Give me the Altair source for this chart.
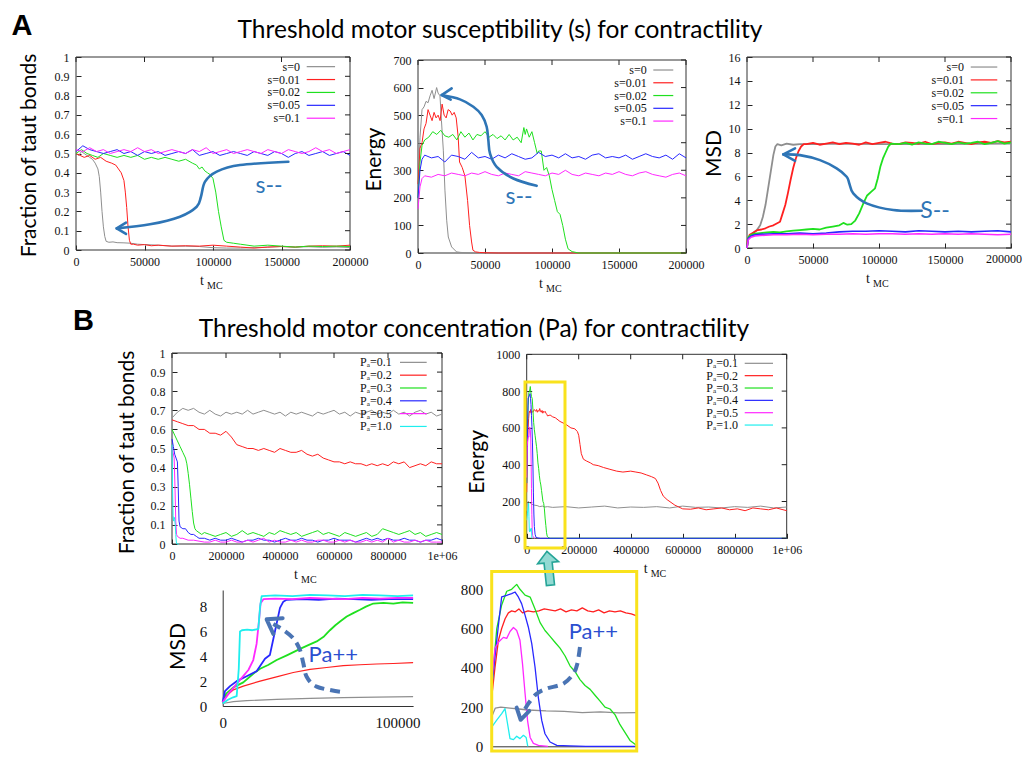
import altair as alt
import pandas as pd

SERIF = "Liberation Serif"
SANS = "Lato"
LETTER_FONT = "Liberation Sans"

# ============================ DATA ============================
# ---------- Panel A: threshold motor susceptibility (s) ----------
A_NAMES = ["s=0", "s=0.01", "s=0.02", "s=0.05", "s=0.1"]
A_COLORS = ["#8f8f8f", "#ff2020", "#1fe01f", "#2828ff", "#ff28ff"]
A_XTICKS = [0, 50000, 100000, 150000, 200000]
A_X_5K = list(range(0, 200001, 5000))

# A1: fraction of taut bonds
A1_YTICKS = [0, 0.1, 0.2, 0.3, 0.4, 0.5, 0.6, 0.7, 0.8, 0.9, 1]
a1_s0_x = [0, 2000, 4000, 6000, 8000, 10000, 12000, 14000, 16000, 17000, 18000, 19000, 20000, 21000, 22000, 24000, 27000, 30000, 35000, 40000, 45000, 50000, 60000, 70000, 80000, 90000, 100000, 110000, 120000, 130000, 140000, 150000, 160000, 170000, 180000, 190000, 200000]
a1_s0_y = [0.50, 0.49, 0.51, 0.50, 0.49, 0.48, 0.47, 0.45, 0.42, 0.38, 0.30, 0.20, 0.12, 0.07, 0.045, 0.04, 0.042, 0.038, 0.037, 0.035, 0.03, 0.028, 0.025, 0.02, 0.02, 0.018, 0.012, 0.01, 0.01, 0.012, 0.015, 0.018, 0.015, 0.017, 0.014, 0.016, 0.013]
a1_s1_x = [0, 3000, 6000, 10000, 14000, 18000, 22000, 26000, 29000, 31000, 33000, 35000, 36000, 37000, 38000, 39000, 40000, 42000, 45000, 50000, 55000, 60000, 70000, 80000, 90000, 100000, 110000, 120000, 130000, 140000, 150000, 160000, 170000, 180000, 190000, 200000]
a1_s1_y = [0.50, 0.49, 0.48, 0.49, 0.47, 0.48, 0.46, 0.45, 0.44, 0.42, 0.40, 0.36, 0.30, 0.22, 0.12, 0.05, 0.03, 0.03, 0.025, 0.028, 0.022, 0.025, 0.02, 0.022, 0.02, 0.025, 0.02, 0.015, 0.01, 0.015, 0.018, 0.015, 0.02, 0.022, 0.02, 0.025]
a1_s2_x = [0, 4000, 8000, 12000, 16000, 20000, 25000, 30000, 35000, 40000, 45000, 50000, 55000, 60000, 65000, 70000, 75000, 80000, 85000, 88000, 90000, 92000, 94000, 96000, 98000, 100000, 102000, 104000, 106000, 108000, 110000, 115000, 120000, 130000, 140000, 150000, 160000, 170000, 180000, 190000, 200000]
a1_s2_y = [0.50, 0.52, 0.50, 0.49, 0.48, 0.50, 0.49, 0.48, 0.49, 0.48, 0.49, 0.47, 0.48, 0.47, 0.48, 0.47, 0.46, 0.47, 0.45, 0.44, 0.42, 0.43, 0.41, 0.40, 0.39, 0.37, 0.30, 0.20, 0.12, 0.05, 0.04, 0.035, 0.03, 0.02, 0.025, 0.02, 0.015, 0.02, 0.018, 0.02, 0.018]
a1_s3_y = [0.51, 0.54, 0.52, 0.51, 0.50, 0.51, 0.52, 0.50, 0.51, 0.49, 0.51, 0.50, 0.51, 0.49, 0.50, 0.51, 0.50, 0.52, 0.49, 0.50, 0.51, 0.49, 0.50, 0.51, 0.50, 0.49, 0.51, 0.50, 0.49, 0.51, 0.50, 0.48, 0.50, 0.51, 0.49, 0.50, 0.51, 0.49, 0.50, 0.51, 0.49]
a1_s4_y = [0.52, 0.51, 0.53, 0.51, 0.52, 0.50, 0.51, 0.52, 0.51, 0.53, 0.51, 0.52, 0.50, 0.51, 0.52, 0.51, 0.50, 0.52, 0.51, 0.53, 0.50, 0.51, 0.52, 0.50, 0.51, 0.52, 0.51, 0.50, 0.52, 0.51, 0.50, 0.52, 0.51, 0.50, 0.51, 0.53, 0.51, 0.52, 0.50, 0.51, 0.52]

# A2: energy
A2_YTICKS = [0, 100, 200, 300, 400, 500, 600, 700]
a2_s0_x = [0, 1500, 3000, 4500, 6000, 7500, 9000, 10500, 12000, 13900, 15000, 16400, 17500, 18900, 20100, 21400, 22600, 25100, 28800, 32000, 40000, 60000, 100000, 200000]
a2_s0_y = [220, 420, 520, 530, 550, 545, 570, 590, 560, 600, 580, 570, 480, 373, 228, 119, 58, 22, 4, 2, 0, 0, 0, 0]
a2_s1_x = [0, 1500, 3000, 4500, 6000, 7500, 9000, 10500, 12000, 13500, 15000, 16500, 18000, 19500, 21000, 22500, 24000, 25500, 27000, 28500, 30000, 31000, 33000, 35000, 37000, 38500, 40000, 41000, 43000, 46000, 50000, 60000, 100000, 200000]
a2_s1_y = [250, 380, 400, 450, 470, 520, 500, 480, 510, 490, 500, 480, 540, 500, 490, 520, 515, 500, 510, 490, 420, 330, 310, 280, 190, 100, 40, 10, 4, 2, 1, 0, 0, 0]
a2_s2_x = [0, 1500, 3000, 5000, 8000, 11000, 14000, 17000, 20000, 23000, 26000, 29000, 32000, 35000, 38000, 41000, 44000, 47000, 50000, 53000, 56000, 59000, 62000, 65000, 68000, 71000, 74000, 77000, 79000, 80000, 81000, 83000, 85000, 87000, 89000, 90000, 92000, 94000, 96000, 98000, 100000, 102000, 104000, 106000, 108000, 110000, 112000, 115000, 120000, 200000]
a2_s2_y = [200, 330, 390, 410, 420, 440, 430, 445, 425, 420, 430, 410, 440, 420, 435, 410, 430, 425, 440, 420, 430, 415, 425, 410, 430, 410, 420, 400, 455, 430, 450, 420, 440, 400, 360, 370, 370, 300, 310, 280, 230, 190, 150, 140, 100, 50, 15, 5, 0, 0]
a2_s34_x = [0, 1500, 3000] + list(range(5000, 200001, 5000))
a2_s3_y = [200, 300, 340, 355, 345, 350, 330, 355, 350, 340, 365, 345, 350, 340, 355, 345, 360, 350, 340, 345, 365, 350, 355, 345, 360, 345, 350, 340, 355, 360, 345, 350, 345, 355, 340, 350, 360, 350, 345, 355, 340, 360, 345]
a2_s4_y = [160, 240, 270, 280, 275, 285, 280, 290, 285, 280, 290, 285, 295, 285, 280, 290, 285, 280, 295, 290, 285, 280, 290, 285, 300, 285, 280, 290, 285, 280, 290, 285, 295, 285, 280, 290, 295, 285, 280, 275, 285, 290, 280]

# A3: MSD
A3_YTICKS = [0, 2, 4, 6, 8, 10, 12, 14, 16]
a3_s0_x = [0, 500, 1500, 3000, 5000, 7500, 10000, 12000, 14000, 16000, 18000, 20000, 21500, 23000, 26000, 30000, 35000, 40000, 50000, 70000, 100000, 150000, 200000]
a3_s0_y = [0, 0.6, 0.9, 1.1, 1.3, 1.5, 1.9, 2.6, 3.6, 5.0, 6.4, 7.8, 8.5, 8.7, 8.6, 8.75, 8.65, 8.7, 8.7, 8.75, 8.7, 8.7, 8.75]
a3_s1_x = [0, 500, 2000, 5000, 8000, 11000, 14000, 17000, 20000, 22500, 25000, 27000, 29000, 31000, 33000, 35000, 37000, 39000, 41000, 43000] + list(range(45000, 200001, 5000))
a3_s1_y = [0, 0.7, 1.1, 1.3, 1.5, 1.55, 1.65, 1.8, 1.9, 2.05, 2.2, 2.9, 3.6, 4.6, 5.7, 6.7, 7.5, 8.1, 8.5, 8.7,
           8.7, 8.8, 8.65, 8.75, 8.85, 8.7, 8.8, 8.75, 8.65, 8.85, 8.7, 8.8, 8.9, 8.75, 8.7, 8.85, 8.8, 8.75, 8.9, 8.7, 8.8, 8.85, 8.75, 8.9, 8.8, 8.7, 8.85, 8.9, 8.8, 8.95, 8.85, 8.9]
a3_s2_x = [0, 1000, 3000, 6000, 10000, 15000, 20000, 25000, 30000, 35000, 40000, 45000, 50000, 55000, 60000, 65000, 70000, 73000, 76000, 79000, 82000, 85000, 88000, 91000, 94000, 97000, 99000, 101000, 103000, 105000, 107000, 109000] + list(range(115000, 200001, 5000))
a3_s2_y = [0, 0.9, 1.1, 1.2, 1.25, 1.3, 1.35, 1.3, 1.4, 1.45, 1.5, 1.55, 1.6, 1.55, 1.7, 1.8, 1.9, 2.1, 1.95, 2.0, 2.3, 2.9, 3.7, 4.4, 4.7, 5.0, 5.8, 6.8, 7.5, 8.0, 8.5, 8.75,
           8.7, 8.8, 8.65, 8.85, 8.75, 8.7, 8.9, 8.8, 8.7, 8.85, 8.75, 8.8, 8.9, 8.7, 8.8, 8.95, 8.75, 8.85]
a3_s34_x = [0, 1000, 3000, 6000, 10000, 20000, 30000, 40000, 50000, 60000, 70000, 80000, 90000, 100000, 110000, 120000, 130000, 140000, 150000, 160000, 170000, 180000, 190000, 200000]
a3_s3_y = [0, 0.8, 1.0, 1.1, 1.15, 1.2, 1.2, 1.25, 1.2, 1.25, 1.35, 1.4, 1.4, 1.45, 1.4, 1.35, 1.45, 1.4, 1.35, 1.4, 1.35, 1.4, 1.45, 1.35]
a3_s4_y = [0, 0.7, 0.9, 1.0, 1.05, 1.1, 1.1, 1.15, 1.1, 1.15, 1.15, 1.2, 1.15, 1.2, 1.2, 1.15, 1.2, 1.15, 1.2, 1.15, 1.2, 1.15, 1.1, 1.15]

# ---------- Panel B: threshold motor concentration (Pa) ----------
B_NAMES = ["P\u2090=0.1", "P\u2090=0.2", "P\u2090=0.3", "P\u2090=0.4", "P\u2090=0.5", "P\u2090=1.0"]
B_COLORS = ["#8f8f8f", "#ff2020", "#1fe01f", "#2828ff", "#ff28ff", "#1feeee"]
B_XTICKS = [0, 200000, 400000, 600000, 800000, 1000000]
B_X_20K = list(range(0, 1000001, 20000))
B_TAIL_X = list(range(140000, 1000001, 20000))

# B1: fraction of taut bonds
b1_p1_y = [0.66, 0.69, 0.71, 0.70, 0.71, 0.69, 0.68, 0.70, 0.68, 0.67, 0.69, 0.68, 0.69, 0.68, 0.70, 0.68, 0.69, 0.70, 0.69, 0.68, 0.69, 0.67, 0.69, 0.68, 0.69, 0.68, 0.67, 0.69, 0.68, 0.69, 0.70, 0.68, 0.69, 0.67, 0.69, 0.68, 0.69, 0.70, 0.68, 0.69, 0.68, 0.70, 0.68, 0.69, 0.67, 0.69, 0.70, 0.68, 0.69, 0.67, 0.68]
b1_p2_y = [0.65, 0.64, 0.63, 0.62, 0.62, 0.60, 0.60, 0.58, 0.58, 0.57, 0.59, 0.56, 0.52, 0.51, 0.50, 0.50, 0.49, 0.50, 0.49, 0.48, 0.50, 0.49, 0.48, 0.48, 0.49, 0.47, 0.46, 0.47, 0.45, 0.44, 0.43, 0.43, 0.42, 0.43, 0.42, 0.42, 0.41, 0.42, 0.41, 0.42, 0.41, 0.43, 0.42, 0.43, 0.40, 0.41, 0.42, 0.41, 0.43, 0.42, 0.42]
b1_p3_x = [0, 10000, 20000, 30000, 40000, 50000, 55000, 60000, 65000, 70000, 75000, 80000, 85000, 90000, 100000, 110000, 120000] + B_TAIL_X
b1_p3_y = [0.60, 0.57, 0.54, 0.51, 0.48, 0.45, 0.42, 0.37, 0.31, 0.24, 0.17, 0.11, 0.08, 0.07, 0.06, 0.05, 0.06,
           0.05, 0.04, 0.05, 0.06, 0.04, 0.05, 0.07, 0.05, 0.06, 0.05, 0.04, 0.06, 0.05, 0.07, 0.06, 0.05, 0.06, 0.04, 0.05, 0.06, 0.07, 0.05, 0.06, 0.05, 0.04, 0.06, 0.05, 0.04, 0.05, 0.06, 0.04, 0.05, 0.08, 0.07, 0.06, 0.05, 0.06, 0.07, 0.05, 0.06, 0.04, 0.05, 0.06, 0.05]
b1_p4_x = [0, 5000, 10000, 15000, 20000, 23000, 26000, 30000, 40000, 50000, 60000, 70000, 80000, 90000, 100000, 120000] + B_TAIL_X
b1_p4_y = [0.55, 0.51, 0.47, 0.45, 0.43, 0.30, 0.12, 0.09, 0.08, 0.08, 0.06, 0.05, 0.05, 0.04, 0.03, 0.03,
           0.02, 0.03, 0.02, 0.02, 0.03, 0.02, 0.01, 0.02, 0.02, 0.03, 0.02, 0.02, 0.01, 0.02, 0.03, 0.02, 0.02, 0.03, 0.02, 0.02, 0.01, 0.02, 0.02, 0.03, 0.02, 0.02, 0.02, 0.01, 0.02, 0.03, 0.02, 0.03, 0.02, 0.03, 0.02, 0.02, 0.03, 0.02, 0.02, 0.01, 0.02, 0.02, 0.03, 0.02]
b1_p5_x = [0, 4000, 8000, 11000, 14000, 17000, 20000, 30000, 40000, 60000, 80000, 100000, 120000] + B_TAIL_X
b1_p5_y = [0.51, 0.48, 0.45, 0.30, 0.12, 0.05, 0.04, 0.03, 0.03, 0.02, 0.02, 0.015, 0.01,
           0.01, 0.02, 0.01, 0.01, 0.02, 0.01, 0.01, 0.02, 0.01, 0.02, 0.03, 0.01, 0.02, 0.01, 0.01, 0.02, 0.01, 0.02, 0.01, 0.01, 0.02, 0.02, 0.01, 0.01, 0.02, 0.01, 0.02, 0.01, 0.01, 0.02, 0.01, 0.02, 0.01, 0.03, 0.01, 0.02, 0.01, 0.01, 0.02, 0.01, 0.02, 0.01, 0.01, 0.01]
b1_p6_x = [0, 2000, 4000, 6000, 8000, 10000, 12000, 14000, 16000, 18000, 25000]
b1_p6_y = [0.52, 0.30, 0.15, 0.12, 0.14, 0.13, 0.10, 0.05, 0.01, 0, 0]

# B2 (and its zoomed inset): energy
B2_YTICKS = [0, 200, 400, 600, 800, 1000]
b2_p1_x = [0, 2000, 5000, 10000, 15000, 20000, 30000, 40000, 50000, 60000, 70000, 80000] + list(range(100000, 1000001, 50000))
b2_p1_y = [150, 195, 200, 195, 190, 185, 180, 178, 172, 175, 170, 172,
           168, 172, 165, 170, 175, 165, 170, 168, 172, 165, 175, 168, 170, 165, 172, 168, 175, 165, 170]
b2_p2_x = [0, 1800, 3700, 5500, 7400, 9200, 11000, 13000, 15000, 17000, 20000, 23000, 26000, 29000, 32000, 35000, 38000, 41000, 44000, 47000, 50000, 53000, 56000, 59000, 62000, 65000, 68000, 71000, 74000, 77000, 80000,
           90000, 100000, 110000, 128000, 150000, 170000, 185000, 195000, 200000, 205000, 210000, 218000, 230000, 245000, 256000, 275000, 295000, 320000, 346000, 370000, 400000, 420000, 440000, 460000, 480000, 495000, 505000, 515000, 525000, 540000, 555000, 570000, 585000, 600000, 630000, 660000, 690000, 720000, 750000, 780000, 810000, 840000, 870000, 900000, 930000, 960000, 1000000]
b2_p2_y = [250, 400, 540, 600, 650, 680, 690, 685, 700, 680, 690, 685, 690, 700, 695, 690, 700, 685, 695, 690, 705, 690, 685, 695, 680, 690, 685, 690, 680, 675, 665,
           670, 660, 655, 635, 620, 600, 595, 580, 560, 510, 460, 430, 420, 410, 400, 395, 385, 375, 365, 360, 365, 360, 355, 345, 335, 325, 300, 260, 230, 210, 195, 180, 170, 160, 158, 165, 155, 160, 165, 155, 160, 150, 165, 160, 155, 165, 150]
b2_p3_x = [0, 2800, 5500, 8300, 11000, 13800, 15600, 18400, 21200, 23900, 26700, 29400, 32200, 34900, 37700, 40500, 43200, 46000, 48700, 51500, 54300, 57000, 59800, 62500, 65300, 68100, 70800, 73600, 76300, 79100, 85000, 90000, 1000000]
b2_p3_y = [300, 600, 720, 790, 800, 825, 800, 770, 760, 700, 630, 590, 560, 530, 500, 460, 410, 380, 340, 310, 290, 260, 230, 200, 190, 160, 110, 70, 30, 10, 3, 0, 0]
b2_p4_x = [0, 1800, 3600, 5500, 8300, 11000, 12900, 14700, 16500, 18400, 20200, 22100, 23900, 25700, 27600, 29400, 32200, 35900, 43000, 52000, 1000000]
b2_p4_y = [300, 455, 608, 761, 769, 778, 786, 761, 727, 668, 608, 523, 404, 251, 132, 64, 22, 5, 2, 0, 0]
b2_p5_x = [0, 1840, 3680, 6440, 8280, 10100, 12000, 13800, 15600, 17000, 18400, 19800, 21200, 23000, 25800, 31000]
b2_p5_y = [330, 500, 530, 555, 550, 585, 605, 590, 540, 420, 270, 130, 45, 15, 5, 0]
b2_p6_x = [0, 2760, 5520, 7340, 8650, 10100, 12000, 13800, 15600, 17500, 19000, 19900]
b2_p6_y = [98, 133, 166, 192, 120, 39, 34, 51, 39, 56, 45, 0]

# B3 (inset): MSD
B3_XTICKS = [0, 100000]
B3_YTICKS = [0, 2, 4, 6, 8]
b3_p1_x = [0, 6100, 13700, 30800, 50000, 69000, 88000, 109000]
b3_p1_y = [0.2, 0.35, 0.43, 0.54, 0.62, 0.67, 0.72, 0.75]
b3_p2_x = [0, 2000, 6100, 11800, 21400, 30800, 40400, 50000, 59500, 69000, 78600, 88100, 97700, 109000]
b3_p2_y = [0.3, 0.8, 1.3, 1.6, 2.0, 2.35, 2.7, 2.95, 3.1, 3.25, 3.32, 3.38, 3.42, 3.5]
b3_p3_x = [0, 2000, 6100, 11800, 17500, 21400, 26000, 30900, 37000, 44300, 49000, 53800, 58000, 61400, 64500, 67200, 71000, 75000, 78600, 82000, 86200, 92000, 97700, 103000, 109000]
b3_p3_y = [0.3, 1.0, 1.5, 1.9, 2.6, 3.0, 3.3, 3.7, 4.1, 4.6, 4.9, 5.2, 5.6, 6.1, 6.5, 6.8, 7.2, 7.5, 7.75, 8.0, 8.25, 8.3, 8.25, 8.35, 8.3]
b3_p4_x = [0, 1300, 4200, 8000, 13700, 19400, 24200, 27000, 29900, 32800, 34700, 36600, 45000, 55000, 65000, 75000, 85000, 95000, 109000]
b3_p4_y = [0.3, 1.2, 1.6, 2.0, 2.4, 2.8, 3.8, 4.1, 6.0, 7.9, 8.4, 8.55, 8.6, 8.55, 8.65, 8.6, 8.55, 8.6, 8.6]
b3_p5_x = [0, 4000, 9900, 14700, 17500, 19400, 20800, 21700, 23300, 30000, 40000, 50000, 60000, 70000, 80000, 90000, 100000, 109000]
b3_p5_y = [0.3, 1.1, 2.1, 2.9, 3.7, 5.0, 6.9, 8.27, 8.6, 8.65, 8.6, 8.7, 8.65, 8.6, 8.7, 8.65, 8.7, 8.7]
b3_p6_x = [0, 3000, 6000, 8000, 9200, 9900, 11000, 14000, 17000, 20400, 21400, 22300, 30000, 40000, 50000, 60000, 70000, 80000, 90000, 100000, 109000]
b3_p6_y = [0.2, 0.5, 0.7, 0.8, 3.0, 6.0, 6.1, 6.15, 6.1, 6.2, 8.0, 8.85, 8.9, 8.85, 8.95, 8.9, 8.85, 8.95, 8.9, 8.85, 8.9]

# ---------- annotation paths (in each panel's data units) ----------
A1_ARROW = [(155000, 0.4575), (119700, 0.44), (102700, 0.406), (94200, 0.354), (91200, 0.276), (88100, 0.224), (75900, 0.1725), (54000, 0.133), (29700, 0.112)]
A1_HEAD = [(36500, 0.1415), (29700, 0.112), (36500, 0.083)]
A2_ARROW = [(88560, 243.7), (71150, 270.3), (58710, 312.7), (53730, 361.1), (52490, 409.5), (51240, 457.9), (47510, 500.2), (41290, 530.5), (31340, 557.1), (17660, 572.8)]
A2_HEAD = [(25120, 597), (17660, 572.8), (24380, 556)]
A3_ARROW = [(132300, 3.12), (110800, 3.18), (90600, 3.74), (80500, 4.57), (77500, 5.41), (75500, 5.97), (67900, 6.67), (55300, 7.36), (40100, 7.78), (27500, 7.84)]
A3_HEAD = [(36400, 8.34), (27500, 7.84), (36400, 7.3)]
B3_ARROW = [(67140, 1.15), (53780, 1.56), (48060, 2.36), (46150, 3.44), (44240, 4.51), (40430, 5.45), (34700, 6.12), (28980, 6.6)]
B3_HEAD = [(34320, 7.07), (25160, 6.98), (28980, 5.8)]
B4_ARROW = [(48700, 506), (47250, 421), (45040, 370), (39520, 319), (30320, 294), (24800, 268), (20200, 217), (17070, 166)]
B4_HEAD = [(13760, 197), (15970, 135), (20750, 180)]

ARROW_BLUE = "#2E75B6"
DASH_BLUE = "#4A74B4"
PA_BLUE = "#2B4FD0"
YELLOW = "#F9E21C"
TEAL_ARROW = "M0,-1 L0.62,-0.33 L0.24,-0.33 L0.24,1 L-0.24,1 L-0.24,-0.33 L-0.62,-0.33 Z"

# ============================ LAYOUT (pixels inside the chart) ============================
CW, CH = 1015, 748
BOX_A1 = (68, 49, 342, 242)
BOX_A2 = (410, 52, 678, 245)
BOX_A3 = (739, 49, 1003, 240)
BOX_B1 = (164, 345, 434, 536)
BOX_B2 = (518.7, 346.3, 778.7, 530.3)
BOX_B3 = (214.7, 582, 405.1, 698)
BOX_B4 = (483.7, 564, 628.7, 738.3)


# ============================ HELPERS ============================
def tick_label_kw(size):
    return dict(labelFont=SERIF, labelFontSize=size, labelColor="#111", labelFlush=False,
                labelOverlap=False, grid=False)


def framed_axes(box, xticks, yticks, xfmt, yfmt, ytitle, title_dx, title_dy, xexpr=None):
    x0, y0, x1, y1 = box
    xk = dict(orient="bottom", values=xticks, title=None, domain=False, ticks=True, tickSize=5,
              offset=-(CH - y1 + 5), tickColor="#222", labelPadding=6, **tick_label_kw(12))
    if xexpr:
        xk["labelExpr"] = xexpr
    else:
        xk["format"] = xfmt
    ya = alt.Axis(orient="left", values=yticks, format=yfmt, domain=False, ticks=True, tickSize=5,
                  offset=-(x0 + 5), tickColor="#222", labelPadding=7, **tick_label_kw(12),
                  title=ytitle, titleFont=SANS, titleFontSize=21, titleFontWeight="normal",
                  titleColor="#000", titleAngle=270, titleAlign="center", titleBaseline="middle",
                  titleX=title_dx - 5, titleY=y0 + title_dy)
    return alt.Axis(**xk), ya


class Panel:
    def __init__(self, box, xdom, ydom, xaxis, yaxis, xclamp=False):
        x0, y0, x1, y1 = box
        self.box = box
        self.xdom, self.ydom = xdom, ydom
        if xclamp:
            self.xsc = alt.Scale(domain=xdom, range=[x0, x1], nice=False, zero=False, clamp=True)
        else:
            self.xsc = alt.Scale(domain=xdom, range=[x0, x1], nice=False, zero=False)
        self.ysc = alt.Scale(domain=ydom, range=[y1, y0], nice=False, zero=False)
        self.xa, self.ya = xaxis, yaxis
        self.layers = []

    def X(self):
        return alt.X("x:Q", scale=self.xsc, axis=self.xa)

    def Y(self):
        return alt.Y("y:Q", scale=self.ysc, axis=self.ya)

    def line(self, xs, ys, color, sw=1.0, interp="linear", dash=None, cap="butt"):
        n = min(len(xs), len(ys))
        df = pd.DataFrame({"x": list(xs)[:n], "y": list(ys)[:n], "o": list(range(n))})
        kw = dict(color=color, strokeWidth=sw, interpolate=interp, strokeCap=cap, strokeJoin="round")
        if dash is not None:
            kw["strokeDash"] = dash
        self.layers.append(alt.Chart(df).mark_line(**kw).encode(
            x=self.X(), y=self.Y(), order=alt.Order("o:Q")))

    def path(self, pts, color, sw, interp="linear", dash=None, cap="round"):
        self.line([p[0] for p in pts], [p[1] for p in pts], color, sw=sw, interp=interp,
                  dash=dash, cap=cap)

    def text(self, txt, x, y, size, color, font=SANS, align="center"):
        df = pd.DataFrame({"x": [x], "y": [y], "t": [txt]})
        self.layers.append(alt.Chart(df).mark_text(
            font=font, fontSize=size, color=color, align=align, baseline="alphabetic").encode(
            x=self.X(), y=self.Y(), text="t:N"))

    def legend(self, names, colors, lx, x1, x2, y0, dy):
        n = len(names)
        ys = [y0 + i * dy for i in range(n)]
        tdf = pd.DataFrame({"x": [lx] * n, "y": ys, "label": names})
        rdf = pd.DataFrame({"x": [x1] * n, "x2": [x2] * n, "y": ys, "series": names})
        self.layers.append(alt.Chart(tdf).mark_text(
            align="right", baseline="middle", font=SERIF, fontSize=12, color="#111").encode(
            x=self.X(), y=self.Y(), text="label:N"))
        self.layers.append(alt.Chart(rdf).mark_rule(strokeWidth=1.2).encode(
            x=self.X(), x2=alt.X2("x2"), y=self.Y(),
            color=alt.Color("series:N", scale=alt.Scale(domain=names, range=colors), legend=None)))

    def rect(self, x1, x2, y1, y2, stroke, sw):
        df = pd.DataFrame({"x": [x1], "x2": [x2], "y": [y1], "y2": [y2]})
        self.layers.append(alt.Chart(df).mark_rect(fillOpacity=0, stroke=stroke, strokeWidth=sw).encode(
            x=self.X(), x2=alt.X2("x2"), y=self.Y(), y2=alt.Y2("y2")))

    def frame(self):
        self.rect(self.xdom[0], self.xdom[1], self.ydom[0], self.ydom[1], "#333", 1)

    def mirror_ticks(self, xticks, yticks):
        x0, y0, x1, y1 = self.box
        self.layers.append(alt.Chart(pd.DataFrame({"y": yticks})).mark_rule(
            color="#222", strokeWidth=1).encode(y=self.Y(), x=alt.value(x1 - 5), x2=alt.value(x1)))
        self.layers.append(alt.Chart(pd.DataFrame({"x": xticks})).mark_rule(
            color="#222", strokeWidth=1).encode(x=self.X(), y=alt.value(y0), y2=alt.value(y0 + 5)))

    def edge_label(self, value, txt, dx):
        # last x tick label, nudged so that it stays inside the picture
        x0, y0, x1, y1 = self.box
        df = pd.DataFrame({"x": [value], "t": [txt]})
        self.layers.append(alt.Chart(df).mark_text(
            font=SERIF, fontSize=12, color="#111", align="center", baseline="top", dx=dx).encode(
            x=self.X(), y=alt.value(y1 + 6), text="t:N"))

    def tmc(self):
        x0, y0, x1, y1 = self.box
        cx = (x0 + x1) / 2
        self.layers.append(alt.Chart(pd.DataFrame({"s": ["t"]})).mark_text(
            font=SERIF, fontSize=14, align="left", baseline="alphabetic", color="#111").encode(
            text="s:N", x=alt.value(cx - 13), y=alt.value(y1 + 35)))
        self.layers.append(alt.Chart(pd.DataFrame({"s": ["MC"]})).mark_text(
            font=SERIF, fontSize=10, align="left", baseline="alphabetic", color="#111").encode(
            text="s:N", x=alt.value(cx - 6), y=alt.value(y1 + 39)))

    def chart(self):
        return alt.layer(*self.layers)


def free_text(txt, x, y, size, weight="normal", align="center", font=SANS):
    return alt.Chart(pd.DataFrame({"s": [txt]})).mark_text(
        font=font, fontSize=size, fontWeight=weight, align=align, baseline="alphabetic",
        color="#000").encode(text="s:N", x=alt.value(x), y=alt.value(y))


# ============================ PANEL A1 ============================
xa, ya = framed_axes(BOX_A1, A_XTICKS, A1_YTICKS, "d", "~g", "Fraction of taut bonds", -47, 98)
p = Panel(BOX_A1, [0, 200000], [0, 1], xa, ya)
p.frame()
for i, (xx, yy) in enumerate([(a1_s0_x, a1_s0_y), (a1_s1_x, a1_s1_y), (a1_s2_x, a1_s2_y),
                              (A_X_5K, a1_s3_y), (A_X_5K, a1_s4_y)]):
    p.line(xx, yy, A_COLORS[i])
p.mirror_ticks(A_XTICKS, A1_YTICKS)
p.legend(A_NAMES, A_COLORS, 163500, 168400, 189100, 0.950, -0.0668)
p.path(A1_ARROW, ARROW_BLUE, 2.6, interp="cardinal")
p.path(A1_HEAD, ARROW_BLUE, 2.6)
p.text("s--", 140900, 0.295, 23, ARROW_BLUE)
p.tmc()
A1 = p.chart()

# ============================ PANEL A2 ============================
xa, ya = framed_axes(BOX_A2, A_XTICKS, A2_YTICKS, "d", "d", "Energy", -44, 99)
p = Panel(BOX_A2, [0, 200000], [0, 700], xa, ya)
p.frame()
for i, (xx, yy) in enumerate([(a2_s0_x, a2_s0_y), (a2_s1_x, a2_s1_y), (a2_s2_x, a2_s2_y),
                              (a2_s34_x, a2_s3_y), (a2_s34_x, a2_s4_y)]):
    p.line(xx, yy, A_COLORS[i])
p.mirror_ticks(A_XTICKS, A2_YTICKS)
p.legend(A_NAMES, A_COLORS, 170700, 175600, 190500, 663.7, -46.3)
p.path(A2_ARROW, ARROW_BLUE, 2.6, interp="cardinal")
p.path(A2_HEAD, ARROW_BLUE, 2.6)
p.text("s--", 75400, 179.5, 23, ARROW_BLUE)
p.tmc()
A2 = p.chart()

# ============================ PANEL A3 ============================
A3_XEXPR = "datum.value >= 200000 ? '' : format(datum.value, 'd')"
xa, ya = framed_axes(BOX_A3, A_XTICKS, A3_YTICKS, None, "d", "MSD", -33, 96, xexpr=A3_XEXPR)
p = Panel(BOX_A3, [0, 200000], [0, 16], xa, ya)
p.frame()
A3_widths = [1.8, 1.8, 1.8, 1.6, 1.5]
for i, (xx, yy) in enumerate([(a3_s0_x, a3_s0_y), (a3_s1_x, a3_s1_y), (a3_s2_x, a3_s2_y),
                              (a3_s34_x, a3_s3_y), (a3_s34_x, a3_s4_y)]):
    p.line(xx, yy, A_COLORS[i], sw=A3_widths[i])
p.mirror_ticks(A_XTICKS, A3_YTICKS)
p.legend(A_NAMES, A_COLORS, 164400, 169500, 189600, 15.16, -1.079)
p.path(A3_ARROW, ARROW_BLUE, 2.6, interp="cardinal")
p.path(A3_HEAD, ARROW_BLUE, 2.6)
p.text("S--", 142400, 2.48, 23, ARROW_BLUE)
p.edge_label(200000, "200000", -7)
p.tmc()
A3 = p.chart()

# ============================ PANEL B1 ============================
B_XEXPR = "datum.value >= 1000000 ? '1e+06' : format(datum.value, 'd')"
xa, ya = framed_axes(BOX_B1, B_XTICKS, A1_YTICKS, None, "~g", "Fraction of taut bonds", -44.5, 99, xexpr=B_XEXPR)
p = Panel(BOX_B1, [0, 1000000], [0, 1], xa, ya)
p.frame()
for i, (xx, yy) in enumerate([(B_X_20K, b1_p1_y), (B_X_20K, b1_p2_y), (b1_p3_x, b1_p3_y),
                              (b1_p4_x, b1_p4_y), (b1_p5_x, b1_p5_y), (b1_p6_x, b1_p6_y)]):
    p.line(xx, yy, B_COLORS[i])
p.mirror_ticks(B_XTICKS, A1_YTICKS)
p.legend(B_NAMES, B_COLORS, 813700, 844400, 943300, 0.951, -0.0671)
p.tmc()
B1 = p.chart()

# ============================ PANEL B2 ============================
B2_series = [(b2_p1_x, b2_p1_y), (b2_p2_x, b2_p2_y), (b2_p3_x, b2_p3_y), (b2_p4_x, b2_p4_y),
             (b2_p5_x, b2_p5_y), (b2_p6_x, b2_p6_y)]
xa, ya = framed_axes(BOX_B2, B_XTICKS, B2_YTICKS, None, "d", "Energy", -49, 107, xexpr=B_XEXPR)
p = Panel(BOX_B2, [0, 1000000], [0, 1000], xa, ya)
p.frame()
for i, (xx, yy) in enumerate(B2_series):
    p.line(xx, yy, B_COLORS[i])
p.mirror_ticks(B_XTICKS, B2_YTICKS)
p.legend(B_NAMES, B_COLORS, 812700, 838500, 947300, 951, -67.1)
p.rect(-6500, 147300, -53, 849, YELLOW, 3)
tdf = pd.DataFrame({"x": [84600], "y": [-163]})
p.layers.append(alt.Chart(tdf).mark_point(
    shape=TEAL_ARROW, size=1156, filled=True, fill="#92DAD3", stroke="#25A497", strokeWidth=1.6,
    opacity=1, angle=354).encode(x=p.X(), y=p.Y()))
p.tmc()
B2 = p.chart()

# ============================ PANEL B3 (MSD inset) ============================
x0, y0, x1, y1 = BOX_B3
xa = alt.Axis(orient="bottom", offset=-(CH - y1), values=B3_XTICKS, format="d", title=None,
              domain=True, domainColor="#333", ticks=False, labelPadding=9, **tick_label_kw(15))
ya = alt.Axis(orient="left", offset=-x0, values=B3_YTICKS, format="d", domain=True, domainColor="#333",
              ticks=False, labelPadding=16, **tick_label_kw(15),
              title="MSD", titleFont=SANS, titleFontSize=21, titleFontWeight="normal", titleColor="#000",
              titleAngle=270, titleAlign="center", titleBaseline="middle", titleX=-44, titleY=y0 + 56)
p = Panel(BOX_B3, [0, 109000], [0, 9.34], xa, ya)
for i, (xx, yy) in enumerate([(b3_p1_x, b3_p1_y), (b3_p2_x, b3_p2_y), (b3_p3_x, b3_p3_y),
                              (b3_p4_x, b3_p4_y), (b3_p5_x, b3_p5_y), (b3_p6_x, b3_p6_y)]):
    p.line(xx, yy, B_COLORS[i], sw=1.8 if i >= 2 else 1.2)
p.path(B3_ARROW, DASH_BLUE, 4, interp="cardinal", dash=[10, 6], cap="butt")
p.path(B3_HEAD, DASH_BLUE, 4)
p.text("Pa++", 63300, 3.57, 22, PA_BLUE)
B3 = p.chart()

# ============================ PANEL B4 (energy inset, t_MC 0-80000) ============================
x0, y0, x1, y1 = BOX_B4
xa = alt.Axis(orient="bottom", offset=-(CH - y1), values=[0], title=None, grid=False, domain=True,
              domainColor="#333", ticks=False, labels=False)
ya = alt.Axis(orient="left", offset=-x0, values=[0, 200, 400, 600, 800], format="d", title=None,
              domain=True, domainColor="#333", ticks=False, labelPadding=9, **tick_label_kw(15))
p = Panel(BOX_B4, [0, 80000], [0, 888], xa, ya, xclamp=True)
for i, (xx, yy) in enumerate(B2_series):
    if i < 2:  # long-lived series: keep only the zoomed window
        keep = [k for k, v in enumerate(xx) if v <= 80000]
        xx = [xx[k] for k in keep]
        yy = [yy[k] for k in keep]
    p.line(xx, yy, B_COLORS[i], sw=1.3)
p.rect(-2600, 83480, -24, 891, YELLOW, 3)
p.path(B4_ARROW, DASH_BLUE, 4, interp="cardinal", dash=[10, 6], cap="butt")
p.path(B4_HEAD, DASH_BLUE, 4)
p.text("Pa++", 56050, 548, 22, PA_BLUE)
B4 = p.chart()

# ============================ TITLES ============================
titles = alt.layer(
    free_text("A", 3.5, 26.5, 29, "bold", "left", LETTER_FONT),
    free_text("Threshold motor susceptibility (s) for contractility", 492, 30, 24.5),
    free_text("B", 65, 322, 29, "bold", "left", LETTER_FONT),
    free_text("Threshold motor concentration (Pa) for contractility", 466, 329, 24.5),
)

chart = alt.layer(A1, A2, A3, B1, B2, B3, B4, titles).resolve_scale(
    x="independent", y="independent", color="independent"
).properties(
    width=CW, height=CH,
    padding={"left": 0, "top": 0, "right": 0, "bottom": 0},
    autosize=alt.AutoSizeParams(type="none"),
).configure_view(stroke=None)

chart.save("out.html", embed_options={"renderer": "svg", "actions": False})
